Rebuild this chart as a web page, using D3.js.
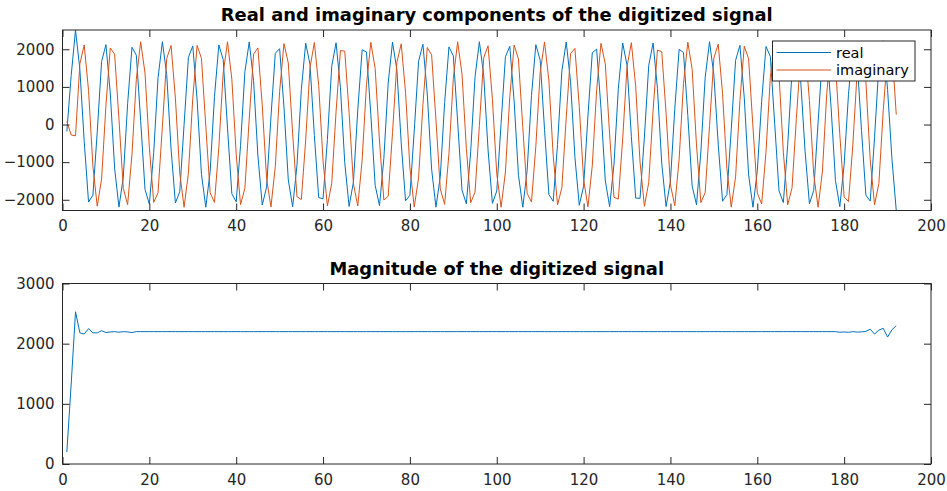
<!DOCTYPE html>
<html><head><meta charset="utf-8">
<script src="https://cdn.jsdelivr.net/npm/d3@7"></script>
<style>
body{margin:0;background:#fff}
svg{display:block}
text{font-family:"DejaVu Sans",sans-serif}
</style></head>
<body><svg id="c" width="947" height="491"></svg>
<script>
// ---------- data ----------
const samples = d3.range(1, 193); // sample index 1..192
const realPart = [
-186,1300,2512,1464,-449,-2060,-1878,-198,1674,2122,
838,-1159,-2195,-1404,555,2053,1843,100,-1724,-2116,
-747,1243,2199,1326,-650,-2086,-1787,-2,1785,2087,
653,-1324,-2199,-1246,744,2115,1727,-97,-1841,-2053,
-558,1402,2195,1163,-836,-2140,-1664,196,1893,2015,
462,-1475,-2186,-1078,927,2161,1598,-294,-1942,-1974,
-399,1548,2173,990,-1016,-2177,-1528,392,1986,1928,
267,-1617,-2155,-902,1102,2189,1455,-489,-2027,-1879,
-168,1682,2133,810,-1187,-2197,-1380,585,2063,1825,
70,-1744,-2107,-717,1269,2200,1301,-680,-2096,-1768,
30,1803,2077,623,-1348,-2199,-1220,773,2123,1708,
-128,-1858,-2042,-528,1425,2193,1136,-865,-2147,-1644,
227,1909,2003,431,-1499,-2183,-1051,955,2167,1576,
-325,-1956,-1960,-334,1570,2168,963,-1043,-2182,-1505,
423,1999,1913,236,-1638,-2131,-730,1258,2200,1312,
-519,-2039,-1862,-137,1703,2105,709,-1338,-2199,-1231,
615,2074,1808,38,-1763,-2074,-540,1415,2194,1148,
-709,-2105,-1749,61,1821,2038,444,-1490,-2184,-1062,
802,2131,1688,-160,-1874,-2035,-340,1578,2224,934,
-905,-2285
];
const imagPart = [
80,-280,-300,1615,2113,904,-1106,-2171,-1450,501,
2034,1870,150,-1694,-2129,-792,1201,2198,1366,-603,
-2069,-1815,-51,1755,2102,700,-1284,-2200,-1287,697,
2101,1757,-48,-1813,-2070,-606,1363,2198,1205,-790,
-2128,-1696,147,1867,2035,510,-1439,-2191,-1121,882,
2151,1632,-245,-1918,-1995,-413,1513,2180,1035,-971,
-2163,-1563,343,1964,1951,316,-1582,-2165,-946,1059,
2184,1492,-440,-2007,-1904,-217,1650,2145,856,-1145,
-2194,-1418,537,2045,1852,119,-1713,-2121,-764,1228,
2199,1340,-633,-2080,-1797,-20,1774,2092,670,-1309,
-2200,-1261,727,2110,1738,-79,-1831,-2060,-576,1387,
2196,1179,-819,-2136,-1676,178,1884,2023,480,-1463,
-2188,-1094,910,2157,1610,-276,-1933,-1982,-382,1535,
2176,1007,-999,-2174,-1542,374,1978,1937,285,-1604,
-2159,-918,1086,2187,1469,-546,-2075,-1805,-33,1766,
2138,827,-1171,-2196,-1393,641,2083,1746,-66,-1823,
-2112,-735,1254,2200,1316,-735,-2133,-1685,165,1877,
2083,641,-1334,-2199,-1236,828,2155,1619,-263,-1927,
-2048,-545,1411,2194,1152,-936,-2133,-1568,370,1892,
2038,262
];
const magnitude = [
200,1330,2530,2180,2160,2250,2180,2180,2215,2185,
2195,2200,2190,2200,2195,2185,2200,2200,2200,2200,
2200,2200,2200,2200,2200,2200,2200,2200,2200,2200,
2200,2200,2200,2200,2200,2200,2200,2200,2200,2200,
2200,2200,2200,2200,2200,2200,2200,2200,2200,2200,
2200,2200,2200,2200,2200,2200,2200,2200,2200,2200,
2200,2200,2200,2200,2200,2200,2200,2200,2200,2200,
2200,2200,2200,2200,2200,2200,2200,2200,2200,2200,
2200,2200,2200,2200,2200,2200,2200,2200,2200,2200,
2200,2200,2200,2200,2200,2200,2200,2200,2200,2200,
2200,2200,2200,2200,2200,2200,2200,2200,2200,2200,
2200,2200,2200,2200,2200,2200,2200,2200,2200,2200,
2200,2200,2200,2200,2200,2200,2200,2200,2200,2200,
2200,2200,2200,2200,2200,2200,2200,2200,2200,2200,
2200,2200,2200,2200,2200,2200,2200,2200,2200,2200,
2200,2200,2200,2200,2200,2200,2200,2200,2200,2200,
2200,2200,2200,2200,2200,2200,2200,2200,2200,2200,
2200,2200,2200,2200,2200,2200,2200,2200,2190,2195,
2188,2200,2192,2196,2205,2240,2160,2225,2255,2110,
2230,2300
];
const xTicks = [0,20,40,60,80,100,120,140,160,180,200];
const topYTicks = [-2000,-1000,0,1000,2000];
const bottomYTicks = [0,1000,2000,3000];
const titles = ["Real and imaginary components of the digitized signal", "Magnitude of the digitized signal"];
const legendLabels = ["real", "imaginary"];
const colors = ["#0072BD", "#D95319"];

// ---------- layout ----------
const L = 62.5, R = 931;
const T1 = 30, B1 = 210.5, T2 = 283.5, B2 = 464;
const svg = d3.select("#c");
const ink = "#262626";

const x = d3.scaleLinear().domain([0, 200]).range([L, R]);
const yTop = d3.scaleLinear()
  .domain([d3.min([d3.min(realPart), d3.min(imagPart)]), d3.max([d3.max(realPart), d3.max(imagPart)])])
  .range([B1, T1]);
const yBot = d3.scaleLinear().domain([0, 3000]).range([B2, T2]);

function drawAxes(yScale, yTicks, T, B) {
  const g = svg.append("g");
  g.append("g").attr("transform", `translate(0,${B})`)
    .call(d3.axisBottom(x).tickValues(xTicks).tickSizeInner(-7).tickSizeOuter(0).tickPadding(10).tickFormat(d3.format("d")));
  g.append("g").attr("transform", `translate(0,${T})`)
    .call(d3.axisTop(x).tickValues(xTicks).tickSizeInner(-7).tickSizeOuter(0).tickFormat(""));
  g.append("g").attr("transform", `translate(${L},0)`)
    .call(d3.axisLeft(yScale).tickValues(yTicks).tickSizeInner(-7).tickSizeOuter(0).tickPadding(8).tickFormat(d3.format("d")));
  g.append("g").attr("transform", `translate(${R},0)`)
    .call(d3.axisRight(yScale).tickValues(yTicks).tickSizeInner(-7).tickSizeOuter(0).tickFormat(""));
  g.selectAll(".domain").attr("stroke", "none");
  g.selectAll(".tick line").attr("stroke", ink);
  g.selectAll(".tick text").attr("fill", ink).style("font-size", "15px").style("font-family", "DejaVu Sans");
  g.append("rect").attr("x", L).attr("y", T).attr("width", R - L).attr("height", B - T)
    .attr("fill", "none").attr("stroke", ink).attr("stroke-width", 1);
}

// top panel
const lineTop = (arr) => d3.line().x((d, i) => x(samples[i])).y(d => yTop(d))(arr);
svg.append("path").attr("d", lineTop(realPart)).attr("fill", "none").attr("stroke", colors[0]).attr("stroke-width", 1);
svg.append("path").attr("d", lineTop(imagPart)).attr("fill", "none").attr("stroke", colors[1]).attr("stroke-width", 1);
drawAxes(yTop, topYTicks, T1, B1);

// bottom panel
const lineBot = d3.line().x((d, i) => x(samples[i])).y(d => yBot(d));
svg.append("path").attr("d", lineBot(magnitude)).attr("fill", "none").attr("stroke", colors[0]).attr("stroke-width", 1);
drawAxes(yBot, bottomYTicks, T2, B2);

// titles
svg.append("text").attr("x", (L + R) / 2).attr("y", 21).attr("text-anchor", "middle")
  .style("font-weight", "bold").style("font-size", "17.9px").attr("fill", "#000").text(titles[0]);
svg.append("text").attr("x", (L + R) / 2).attr("y", 274.5).attr("text-anchor", "middle")
  .style("font-weight", "bold").style("font-size", "17.9px").attr("fill", "#000").text(titles[1]);

// legend
const lg = svg.append("g");
lg.append("rect").attr("x", 772.5).attr("y", 41).attr("width", 142.5).attr("height", 40)
  .attr("fill", "#fff").attr("stroke", ink).attr("stroke-width", 1);
legendLabels.forEach((lab, i) => {
  const yy = 52.5 + i * 17.5;
  lg.append("line").attr("x1", 776.5).attr("x2", 831).attr("y1", yy).attr("y2", yy)
    .attr("stroke", colors[i]).attr("stroke-width", 1);
  lg.append("text").attr("x", 836).attr("y", yy).attr("dy", "0.35em")
    .style("font-size", "14.5px").attr("fill", "#000").text(lab);
});
</script>
</body></html>
